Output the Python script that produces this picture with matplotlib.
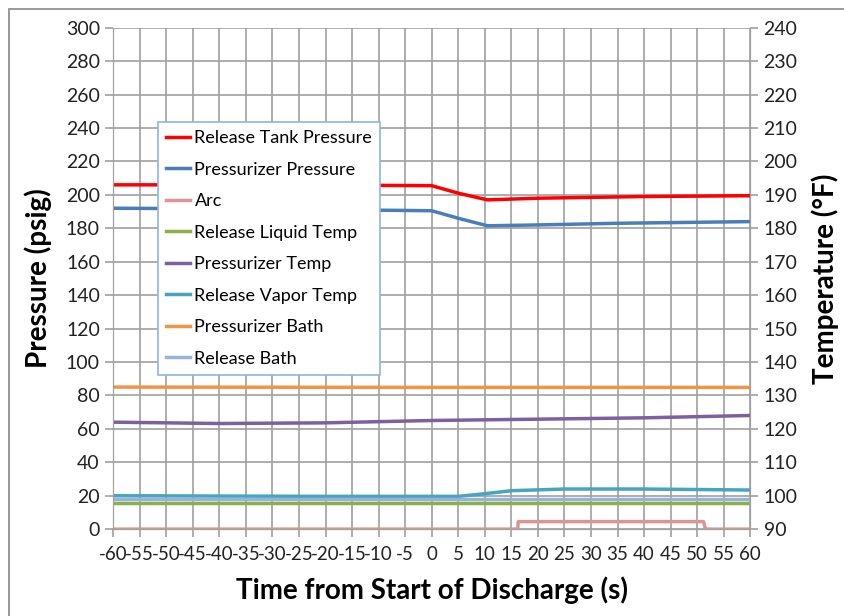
import numpy as np
import matplotlib.pyplot as plt
from matplotlib.patches import Rectangle

plt.rcParams['font.family'] = ['Lato', 'DejaVu Sans']

# pressure series (psig), time in seconds
t_tank = [-60, -30, 0, 5, 10.5, 20, 40, 60]
tank_p = [206, 206, 205.5, 201, 197, 198, 199, 199.5]

t_przr = [-60, -30, 0, 5, 10.5, 20, 35, 60]
przr_p = [192, 191.5, 190.5, 186, 181.5, 182, 183, 184]

t_arc = [-60, 16.2, 16.3, 51.2, 51.5, 52, 60]
arc = [0, 0, 4.5, 4.5, 0.6, 0, 0]

# temperature series (deg F)
t_liq = [-60, 0, 60]
liq_temp = [97.9, 97.9, 97.9]

t_ptemp = [-60, -40, -20, 0, 20, 40, 60]
przr_temp = [122.0, 121.6, 121.8, 122.5, 122.9, 123.3, 124.0]

t_vap = [-60, -20, 5, 10, 15, 25, 40, 60]
vap_temp = [100.0, 99.8, 99.8, 100.6, 101.5, 102.0, 102.0, 101.7]

t_pbath = [-60, 0, 60]
przr_bath = [132.5, 132.4, 132.4]

t_rbath = [-60, 0, 60]
rel_bath = [99.0, 99.0, 99.0]

xticks = np.arange(-60, 61, 5)

fig = plt.figure(figsize=(8.44, 6.16), dpi=100)
ax = fig.add_axes([0.134, 0.141, 0.755, 0.814])
ax2 = ax.twinx()

lw = 2.5
h = []
h += ax.plot(t_tank, tank_p, color='#ff0000', lw=lw, label='Release Tank Pressure')
h += ax.plot(t_przr, przr_p, color='#4a7ebb', lw=lw, label='Pressurizer Pressure')
h += ax.plot(t_arc, arc, color='#d99694', lw=lw, label='Arc')
h += ax2.plot(t_liq, liq_temp, color='#8cb049', lw=lw, label='Release Liquid Temp')
h += ax2.plot(t_ptemp, przr_temp, color='#7d60a0', lw=lw, label='Pressurizer Temp')
h += ax2.plot(t_vap, vap_temp, color='#46a5c0', lw=lw, label='Release Vapor Temp')
h += ax2.plot(t_pbath, przr_bath, color='#f29445', lw=lw, label='Pressurizer Bath')
h += ax2.plot(t_rbath, rel_bath, color='#98b3d8', lw=lw, label='Release Bath')

ax.set_xlim(-60, 60)
ax.set_ylim(0, 300)
ax2.set_ylim(90, 240)
ax.set_xticks(xticks)
ax.set_xticklabels([str(v) for v in xticks])
ax.set_yticks(np.arange(0, 301, 20))
ax2.set_yticks(np.arange(90, 241, 10))

ax.grid(True, color='#a0a0a0', lw=1.2)
ax.set_axisbelow(True)
for a in (ax, ax2):
    for s in a.spines.values():
        s.set_color('#a0a0a0')
    a.spines['top'].set_visible(False)
    a.tick_params(colors='#a0a0a0', labelcolor='#222222', labelsize=14, length=6, width=1.2)
ax.tick_params(axis='x', labelsize=13.5, pad=6)

ax.set_xlabel('Time from Start of Discharge (s)', fontsize=20, fontweight='bold', labelpad=10)
ax.set_ylabel('Pressure (psig)', fontsize=20, fontweight='bold', labelpad=10)
ax2.set_ylabel('Temperature (°F)', fontsize=20, fontweight='bold', labelpad=10)

leg = ax2.legend(handles=h, loc='upper left', bbox_to_anchor=(0.071, 0.812), borderaxespad=0,
                 fontsize=13, frameon=True, fancybox=False, framealpha=1, handlelength=1.3,
                 handletextpad=0.25, labelspacing=0.86, borderpad=0.45)
leg.get_frame().set_edgecolor('#8eb4e3')
leg.get_frame().set_linewidth(1.2)

fig.patches.append(Rectangle((9 / 844, -0.1), 1.1, 1 - 9 / 616 + 0.1, transform=fig.transFigure,
                             fill=False, edgecolor='#888888', lw=1.2))

fig.savefig('out.png', dpi=100)
